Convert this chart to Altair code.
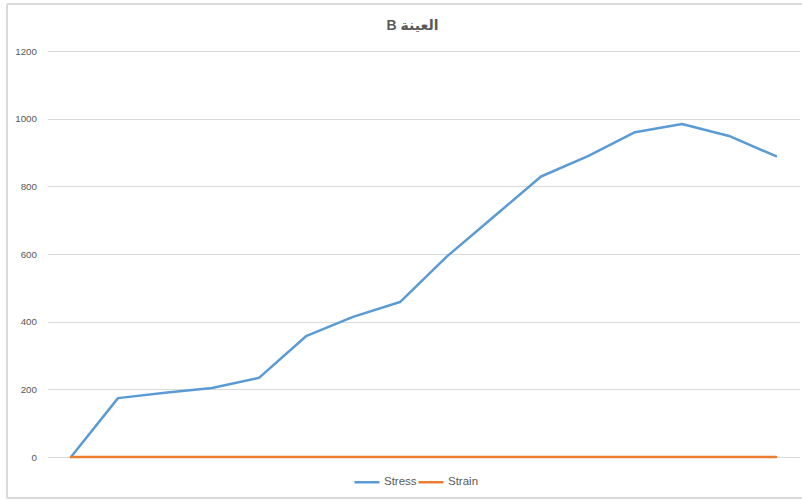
import altair as alt
import pandas as pd

# Sample B: stress / strain readings per load step
steps = list(range(1, 17))
stress = [0, 174, 190, 204, 234, 357, 414, 458, 593, 711, 829, 889, 960, 984, 949, 889]
strain = [0, 0, 0, 0, 0, 0, 0, 0, 0, 0, 0, 0, 0, 0, 0, 0]
series_names = ["Stress", "Strain"]
series_colors = ["#5B9BD5", "#ED7D31"]
y_ticks = [0, 200, 400, 600, 800, 1000, 1200]

rows = []
for s, v in zip(steps, stress):
    rows.append({"step": s, "series": "Stress", "value": v})
for s, v in zip(steps, strain):
    rows.append({"step": s, "series": "Strain", "value": v})
df = pd.DataFrame(rows)

GRID = "#d9d9d9"
TEXT = "#595959"

lines = alt.Chart(df).mark_line(strokeWidth=2.5, strokeCap="round", strokeJoin="round").encode(
    x=alt.X("step:O", axis=None, scale=alt.Scale(type="point", padding=0.5)),
    y=alt.Y(
        "value:Q",
        scale=alt.Scale(domain=[0, 1200], nice=False, zero=True),
        axis=alt.Axis(
            values=y_ticks,
            format="d",
            title=None,
            grid=True,
            gridColor=GRID,
            gridWidth=1,
            domain=False,
            ticks=False,
            labelPadding=11,
            labelColor=TEXT,
            labelFont="Liberation Sans",
            labelFontSize=9.8,
        ),
    ),
    color=alt.Color(
        "series:N",
        scale=alt.Scale(domain=series_names, range=series_colors),
        sort=series_names,
        legend=alt.Legend(
            title=None,
            orient="none",
            direction="horizontal",
            legendX=305.5,
            legendY=417,
            symbolType="stroke",
            symbolSize=625,
            symbolStrokeWidth=2.5,
            labelFont="Liberation Sans",
            labelFontSize=11.5,
            labelColor=TEXT,
            labelOffset=3,
            columnPadding=-5,
        ),
    ),
    order=alt.Order("step:O"),
)

# light frame around the whole chart area
frame = alt.Chart(df).mark_rect(fill=None, stroke=GRID, strokeWidth=1).encode(
    x=alt.value(-40.5), x2=alt.value(770), y=alt.value(-47), y2=alt.value(447)
)

chart = alt.layer(frame, lines).properties(
    width=752,
    height=406,
    background="white",
    padding={"left": 47.5, "top": 51, "right": 2.5, "bottom": 43},
    autosize=alt.AutoSizeParams(type="none"),
    title=alt.TitleParams(
        text="\u202bالعينة B\u202c",
        anchor="middle",
        font="Liberation Sans, DejaVu Sans",
        fontSize=14,
        fontWeight="bold",
        color=TEXT,
        dx=-11,
        offset=-29,
    ),
).configure_view(stroke=None)

chart.save("out.html", embed_options={"renderer": "svg", "actions": False})
